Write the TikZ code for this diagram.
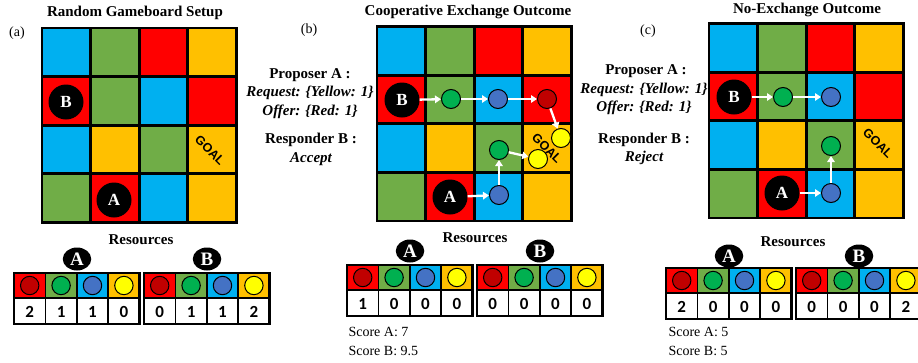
\documentclass[tikz,border=0pt]{standalone}
\usepackage{fontspec}
\setmainfont{Liberation Serif}
\newfontfamily\numfont{Carlito}
\newfontfamily\goalfont{Liberation Sans}
\usetikzlibrary{arrows.meta,shapes.geometric}
\definecolor{cb}{HTML}{00B0F0}
\definecolor{cg}{HTML}{70AD47}
\definecolor{cr}{HTML}{FF0000}
\definecolor{co}{HTML}{FFC000}
\definecolor{tr}{HTML}{C00000}
\definecolor{tg}{HTML}{00B050}
\definecolor{tb}{HTML}{4472C4}
\definecolor{ty}{HTML}{FFFF00}
\newcommand\drawboard[2]{%
  \foreach \c/\r/\cc in {0/0/cb,1/0/cg,2/0/cr,3/0/co,0/1/cr,1/1/cg,2/1/cb,3/1/cr,0/2/cb,1/2/co,2/2/cg,3/2/co,0/3/cg,1/3/cr,2/3/cb,3/3/co}
    {\fill[\cc] ({#1+\c*48.6},{#2+\r*48.6}) rectangle ++(48.6,48.6);}
  \foreach \i in {0,...,4}{
    \draw[gridline] ({#1+\i*48.6},#2) -- ++(0,194.4);
    \draw[gridline] (#1,{#2+\i*48.6}) -- ++(194.4,0);}
}
\newcommand\restable[6]{%
  \foreach \k/\cc/\tc/\n in {0/cr/tr/#3,1/cg/tg/#4,2/cb/tb/#5,3/co/ty/#6}{
    \fill[\cc] ({#1+\k*31.4},#2) rectangle ++(31.4,25);
    \draw[cellline] ({#1+\k*31.4},#2) rectangle ++(31.4,25);
    \draw[cellline,fill=white] ({#1+\k*31.4},{#2+25}) rectangle ++(31.4,26);
    \draw[fill=\tc,line width=1pt] ({#1+\k*31.4+15.7},{#2+12.5}) circle (9.2);
    \node[numtxt] at ({#1+\k*31.4+15.7},{#2+38.5}) {\n};
  }
  \draw[line width=2.6pt] (#1,#2) rectangle ++(125.6,51);
}
\begin{document}
\begin{tikzpicture}[x=1pt,y=-1pt,
  gridline/.style={line width=2.8pt,line cap=rect},
  cellline/.style={line width=1.8pt},
  title/.style={font=\bfseries\fontsize{15}{18}\selectfont},
  plain/.style={font=\fontsize{14}{16}\selectfont},
  bitalic/.style={font=\bfseries\itshape\fontsize{15}{18}\selectfont},
  numtxt/.style={font=\numfont\bfseries\fontsize{17}{18}\selectfont},
  goal/.style={font=\goalfont\bfseries\fontsize{12.5}{14}\selectfont,rotate=-45,inner sep=0pt},
  agent/.style={circle,fill=black,minimum size=35pt,inner sep=0pt,text=white,font=\bfseries\fontsize{17}{17}\selectfont},
  tag/.style={ellipse,fill=black,minimum width=28.5pt,minimum height=23pt,inner sep=0pt,text=white,font=\bfseries\fontsize{19}{19}\selectfont},
  tok/.style={circle,draw=black,line width=1pt,minimum size=19pt,inner sep=0pt},
  warr/.style={white,line width=2.3pt,-{Triangle[length=6pt,width=7.5pt]}}]
\useasboundingbox (0,0) rectangle (918,362);

% ---------- (a) ----------
\node[title] (ta) at (135,13) {Random Gameboard Setup};
\node[plain] (la) at (17,33) {(a)};
\drawboard{42}{28}
\node[goal] (goala) at (210,150) {GOAL};
\node[agent] (aB) at (66,102) {B};
\node[agent] (aA) at (114,200) {A};
\node[title] (resa) at (141,240) {Resources};
\restable{14}{273}{2}{1}{1}{0}
\restable{144}{273}{0}{1}{1}{2}
\node[tag] (aTA) at (77,259) {A};
\node[tag] (aTB) at (207,259) {B};

% ---------- (b) ----------
\node[title] (tb) at (468,12) {Cooperative Exchange Outcome};
\node[plain] (lb) at (309,30) {(b)};
\node[title] (pb1) at (310,75) {Proposer A :};
\node[bitalic] (pb2) at (310,93) {Request: \{Yellow: 1\}};
\node[bitalic] (pb3) at (310,112) {Offer: \{Red: 1\}};
\node[title] (pb4) at (311,140) {Responder B :};
\node[bitalic] (pb5) at (311,159) {Accept};
\drawboard{377}{26.5}
\node[goal] (goalb) at (547,148) {GOAL};
\node[agent] (bB) at (402,100) {B};
\node[agent] (bA) at (450,197) {A};
\node[tok,fill=tg] (bg1) at (451,99) {};
\node[tok,fill=tb] (bb1) at (498,99) {};
\node[tok,fill=tr] (br1) at (547,99) {};
\node[tok,fill=ty] (by1) at (561,138) {};
\node[tok,fill=tb] (bb2) at (499,195) {};
\node[tok,fill=tg] (bg2) at (499,150) {};
\node[tok,fill=ty] (by2) at (538,159) {};
\draw[warr] (bB) -- (bg1);
\draw[warr] (bg1) -- (bb1);
\draw[warr] (bb1) -- (br1);
\draw[warr] (br1) -- (by1);
\draw[warr] (bA) -- (bb2);
\draw[warr] (bb2) -- (bg2);
\draw[warr] (bg2) -- (by2);
\node[title] (resb) at (475,238) {Resources};
\restable{347}{265}{1}{0}{0}{0}
\restable{477}{265}{0}{0}{0}{0}
\node[tag] (bTA) at (410,251) {A};
\node[tag] (bTB) at (540,251) {B};
\node[plain,anchor=west] (sb1) at (345,332) {Score A: 7};
\node[plain,anchor=west] (sb2) at (345,351) {Score B: 9.5};

% ---------- (c) ----------
\node[title] (tc) at (807,10) {No-Exchange Outcome};
\node[plain] (lc) at (648,31) {(c)};
\node[title] (pc1) at (646,71) {Proposer A :};
\node[bitalic] (pc2) at (644,90) {Request: \{Yellow: 1\}};
\node[bitalic] (pc3) at (644,108) {Offer: \{Red: 1\}};
\node[title] (pc4) at (644,140) {Responder B :};
\node[bitalic] (pc5) at (644,158) {Reject};
\drawboard{709}{23.5}
\node[goal] (goalc) at (878,143) {GOAL};
\node[agent] (cB) at (734,97) {B};
\node[agent] (cA) at (782,193) {A};
\node[tok,fill=tg] (cg1) at (783,97) {};
\node[tok,fill=tb] (cb1) at (831,97) {};
\node[tok,fill=tb] (cb2) at (831,193) {};
\node[tok,fill=tg] (cg2) at (831,146) {};
\draw[warr] (cB) -- (cg1);
\draw[warr] (cg1) -- (cb1);
\draw[warr] (cA) -- (cb2);
\draw[warr] (cb2) -- (cg2);
\node[title] (resc) at (793,242) {Resources};
\restable{666}{268}{2}{0}{0}{0}
\restable{796}{268}{0}{0}{0}{2}
\node[tag] (cTA) at (729,256) {A};
\node[tag] (cTB) at (859,256) {B};
\node[plain,anchor=west] (sc1) at (665,332) {Score A: 5};
\node[plain,anchor=west] (sc2) at (665,351) {Score B: 5};
\end{tikzpicture}
\end{document}
